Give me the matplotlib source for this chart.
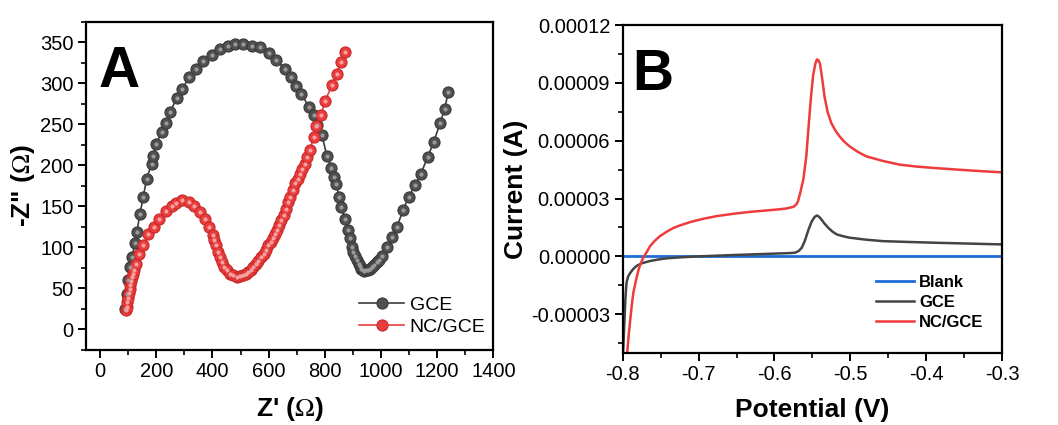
import numpy as np
import matplotlib
matplotlib.use("Agg")
import matplotlib.pyplot as plt
from matplotlib.ticker import MultipleLocator, FormatStrFormatter

plt.rcParams['font.family'] = ['Liberation Sans', 'DejaVu Sans']
plt.rcParams['mathtext.fontset'] = 'stix'

# Panel A: Nyquist plot (Z', -Z'')
gce_zre = [89, 95, 101, 107, 113, 125, 131, 142, 154, 166, 184, 190, 199, 220, 234, 249,
           273, 293, 317, 341, 368, 398, 427, 455, 481, 510, 540, 570, 603, 627, 659, 679,
           698, 716, 745, 760, 772, 790, 807, 823, 831, 840, 851, 858, 872, 881, 890, 896,
           902, 908, 914, 920, 925, 929, 935, 940, 948, 955, 961, 967, 976, 985, 994, 1003,
           1021, 1039, 1056, 1080, 1098, 1122, 1142, 1166, 1187, 1211, 1227, 1239]
gce_zim = [25, 43, 60, 76, 88, 105, 119, 141, 162, 184, 202, 212, 226, 241, 252, 265,
           282, 293, 308, 318, 327, 335, 342, 345, 348, 348, 346, 344, 337, 329, 317, 308,
           297, 287, 271, 261, 249, 237, 212, 197, 186, 177, 162, 149, 135, 121, 111, 100,
           95, 90, 85, 80, 77, 74, 72, 71, 72, 73, 74, 76, 79, 82, 85, 89,
           100, 113, 125, 146, 162, 176, 190, 210, 228, 252, 269, 289]

nc_zre = [93, 95, 97, 100, 102, 105, 107, 110, 114, 118, 122, 128, 140, 154, 172, 192,
          211, 234, 255, 271, 291, 315, 336, 356, 374, 389, 401, 407, 413, 420, 427, 435,
          442, 452, 463, 475, 487, 498, 510, 519, 528, 537, 546, 555, 564, 573, 582, 590,
          599, 607, 615, 622, 629, 637, 645, 654, 662, 670, 677, 686, 694, 703, 712, 720,
          728, 738, 748, 760, 769, 786, 801, 825, 842, 856, 872]
nc_zim = [24, 28, 33, 38, 44, 49, 54, 59, 64, 68, 72, 80, 92, 103, 116, 125,
          135, 145, 150, 154, 158, 156, 151, 143, 135, 125, 115, 109, 103, 95, 88, 82,
          76, 72, 68, 66, 64, 65, 66, 68, 70, 73, 76, 80, 84, 88, 92, 97,
          103, 107, 111, 116, 121, 127, 133, 140, 147, 155, 162, 170, 178, 184, 190, 196,
          202, 210, 219, 235, 248, 261, 278, 298, 311, 326, 338]

# Panel B: current vs potential
pot_blank = [-0.8, -0.3]
cur_blank = [0.0, 0.0]

pot_gce = [-0.7995, -0.798, -0.797, -0.796, -0.795, -0.793, -0.790, -0.786, -0.782, -0.775,
           -0.764, -0.753, -0.742, -0.720, -0.700, -0.654, -0.602, -0.580, -0.573, -0.568,
           -0.564, -0.560, -0.555, -0.551, -0.547, -0.544, -0.541, -0.538, -0.534, -0.529,
           -0.524, -0.518, -0.510, -0.501, -0.480, -0.457, -0.425, -0.391, -0.350, -0.300]
cur_gce = [-4.95e-5, -3.6e-5, -2.6e-5, -1.9e-5, -1.36e-5, -1.05e-5, -0.85e-5, -0.65e-5, -0.5e-5, -0.36e-5,
           -0.24e-5, -0.16e-5, -0.1e-5, -0.04e-5, 0.0, 0.07e-5, 0.14e-5, 0.17e-5, 0.19e-5, 0.28e-5,
           0.45e-5, 0.8e-5, 1.4e-5, 1.8e-5, 2.05e-5, 2.12e-5, 2.05e-5, 1.91e-5, 1.7e-5, 1.48e-5,
           1.3e-5, 1.14e-5, 1.05e-5, 0.97e-5, 0.87e-5, 0.79e-5, 0.75e-5, 0.71e-5, 0.67e-5, 0.62e-5]

pot_nc = [-0.794, -0.792, -0.790, -0.788, -0.786, -0.782, -0.779, -0.776, -0.773, -0.768,
          -0.764, -0.758, -0.751, -0.742, -0.733, -0.722, -0.711, -0.694, -0.676, -0.654,
          -0.632, -0.614, -0.597, -0.585, -0.575, -0.571, -0.569, -0.566, -0.562, -0.558,
          -0.555, -0.552, -0.549, -0.546, -0.544, -0.542, -0.540, -0.537, -0.534, -0.530,
          -0.525, -0.520, -0.514, -0.508, -0.501, -0.490, -0.479, -0.457, -0.435, -0.413,
          -0.391, -0.369, -0.347, -0.323, -0.300]
cur_nc = [-4.95e-5, -4.0e-5, -3.26e-5, -2.5e-5, -1.88e-5, -1.15e-5, -0.67e-5, -0.33e-5, -0.07e-5, 0.25e-5,
          0.53e-5, 0.8e-5, 1.05e-5, 1.28e-5, 1.48e-5, 1.64e-5, 1.78e-5, 1.95e-5, 2.09e-5, 2.21e-5,
          2.31e-5, 2.37e-5, 2.43e-5, 2.48e-5, 2.57e-5, 2.7e-5, 2.86e-5, 3.3e-5, 3.98e-5, 5.2e-5,
          6.74e-5, 8.2e-5, 9.41e-5, 1.0e-4, 1.022e-4, 1.017e-4, 1.0e-4, 9.2e-5, 8.29e-5, 7.5e-5,
          6.91e-5, 6.55e-5, 6.22e-5, 5.95e-5, 5.71e-5, 5.42e-5, 5.19e-5, 4.95e-5, 4.76e-5, 4.66e-5,
          4.59e-5, 4.53e-5, 4.47e-5, 4.41e-5, 4.36e-5]

fig = plt.figure(figsize=(10.58, 4.25), dpi=100)
axA = fig.add_axes([0.0813, 0.1765, 0.385, 0.772])
axB = fig.add_axes([0.5886, 0.170, 0.3585, 0.771])

for ax in (axA, axB):
    for s in ax.spines.values():
        s.set_linewidth(1.6)
    ax.tick_params(which='major', direction='out', length=6, width=1.4, labelsize=14.5,
                   top=False, right=False, pad=3)
    ax.tick_params(which='minor', direction='out', length=3.5, width=1.2,
                   top=False, right=False)

# ---- A ----
gray = '#505050'
red = '#ea3d3d'
axA.plot(gce_zre, gce_zim, '-o', color='#3c3c3c', lw=1.2, ms=8,
         mfc=gray, mec='#3a3a3a', mew=0.8, label='GCE')
axA.plot(nc_zre, nc_zim, '-o', color=red, lw=1.2, ms=8,
         mfc=red, mec='#c82828', mew=0.8, label='NC/GCE')
# highlights on the balls
axA.plot(gce_zre, gce_zim, 'o', ms=3, mfc='#9a9a9a', mec='none')
axA.plot(nc_zre, nc_zim, 'o', ms=3, mfc='#f7a0a0', mec='none')

axA.set_xlim(-50, 1400)
axA.set_ylim(-25, 375)
axA.xaxis.set_major_locator(MultipleLocator(200))
axA.xaxis.set_minor_locator(MultipleLocator(100))
axA.yaxis.set_major_locator(MultipleLocator(50))
axA.yaxis.set_minor_locator(MultipleLocator(25))
axA.set_xlabel("Z' ($\\Omega$)", fontsize=19, fontweight='bold', labelpad=10)
axA.set_ylabel('-Z" ($\\Omega$)', fontsize=19, fontweight='bold', labelpad=2)
axA.text(0.03, 0.93, 'A', transform=axA.transAxes, fontsize=41, fontweight='bold',
         va='top', ha='left')
legA = axA.legend(loc='lower right', frameon=False, fontsize=14, handlelength=2.3,
                  handletextpad=0.3, borderaxespad=0.0, labelspacing=0.2,
                  bbox_to_anchor=(1.0, 0.02))

# ---- B ----
axB.plot(pot_blank, cur_blank, color='#1f6ed8', lw=2, label='Blank')
axB.plot(pot_gce, cur_gce, color='#444444', lw=1.8, label='GCE')
axB.plot(pot_nc, cur_nc, color='#ee3b3b', lw=1.8, label='NC/GCE')
axB.set_xlim(-0.8, -0.3)
axB.set_ylim(-5e-5, 1.2e-4)
axB.xaxis.set_major_locator(MultipleLocator(0.1))
axB.xaxis.set_minor_locator(MultipleLocator(0.05))
axB.xaxis.set_major_formatter(FormatStrFormatter('%.1f'))
axB.yaxis.set_major_locator(MultipleLocator(3e-5))
axB.yaxis.set_minor_locator(MultipleLocator(1.5e-5))
axB.yaxis.set_major_formatter(FormatStrFormatter('%.5f'))
axB.set_xlabel('Potential (V)', fontsize=19, fontweight='bold', labelpad=10)
axB.set_ylabel('Current (A)', fontsize=19, fontweight='bold', labelpad=2)
axB.text(0.025, 0.93, 'B', transform=axB.transAxes, fontsize=41, fontweight='bold',
         va='top', ha='left')
legB = axB.legend(loc='lower right', frameon=False, handlelength=2.3,
                  handletextpad=0.3, labelspacing=0.3, borderaxespad=0.6,
                  bbox_to_anchor=(0.995, 0.02),
                  prop={'size': 12, 'weight': 'bold'})

fig.savefig('out.png', dpi=100)
